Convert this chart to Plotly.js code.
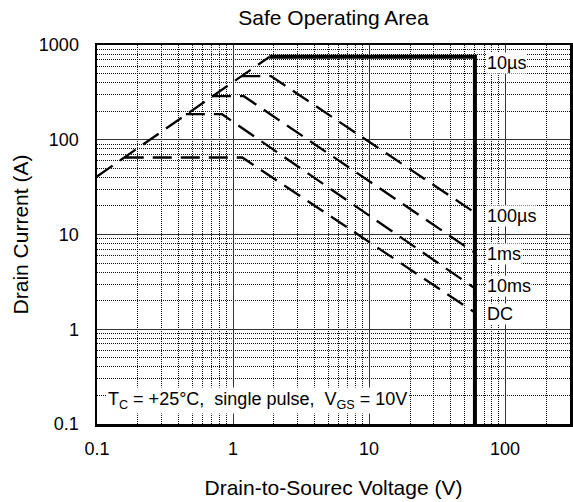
<!DOCTYPE html>
<html><head><meta charset="utf-8">
<script src="https://cdn.plot.ly/plotly-3.0.1.min.js"></script>
<style>body{margin:0;background:#fff}#c{width:573px;height:502px}</style>
</head><body><div id="c"></div>
<script>
// R_DS(on) limit ramp
const rampV = [0.1, 1.85];
const rampI = [41, 750];
// 10 µs / package limit (solid)
const limitV = [1.85, 60, 60];
const limitI = [750, 750, 0.1];
const us100V = [1.15, 1.9, 60];
const us100I = [470, 470, 17];
const ms1V = [0.7, 1.2, 60];
const ms1I = [288, 288, 6.4];
const ms10V = [0.45, 0.83, 60];
const ms10I = [186, 186, 2.7];
const dcV = [0.16, 1.17, 60];
const dcI = [65, 65, 1.5];
const labels = ['10µs', '100µs', '1ms', '10ms', 'DC'];
const labelY = [750, 17, 6.4, 2.7, 1.5];
const xTicks = [0.1, 1, 10, 100];
const yTicks = [0.1, 1, 10, 100, 1000];

const F = 'Arial, "Liberation Sans", sans-serif';
const dash = {color: '#000', width: 2.3, dash: '19px,9px'};
const mk = (x, y, line) => ({x, y, type: 'scatter', mode: 'lines', line, hoverinfo: 'skip', showlegend: false});
const data = [
  mk(rampV, rampI, dash),
  mk(us100V, us100I, dash),
  mk(ms1V, ms1I, dash),
  mk(ms10V, ms10I, dash),
  mk(dcV, dcI, dash),
  mk(limitV, limitI, {color: '#000', width: 4})
];
const lblShift = [-6, -3, -1, 2, -1];
const ann = labels.map((t, i) => ({
  x: Math.log10(60), y: Math.log10(labelY[i]), xref: 'x', yref: 'y', text: t,
  showarrow: false, xanchor: 'left', yanchor: 'middle', xshift: 11, yshift: lblShift[i],
  bgcolor: '#fff', font: {family: F, size: 18, color: '#000'}, borderpad: 0
}));
ann.push({
  xref: 'paper', yref: 'paper', x: 0.02, y: 0.063, xanchor: 'left', yanchor: 'middle',
  text: 'T<sub>C</sub> = +25°C,  single pulse,  V<sub>GS</sub> = 10V', showarrow: false,
  bgcolor: '#fff', font: {family: F, size: 18, color: '#000'}, borderpad: 1
});
const axBase = {
  type: 'log', showline: true, linecolor: '#000', linewidth: 2.5, mirror: true,
  ticks: '', showgrid: true, gridcolor: '#333', gridwidth: 1, zeroline: false,
  tickfont: {family: F, size: 18, color: '#000'},
  minor: {dtick: 'D1', showgrid: true, gridcolor: '#111', griddash: '1px,1px', gridwidth: 1, ticks: ''}
};
const layout = {
  width: 573, height: 502,
  margin: {l: 97, r: 3, t: 45, b: 78},
  paper_bgcolor: '#fff', plot_bgcolor: '#fff',
  title: {text: 'Safe Operating Area', font: {family: F, size: 21, color: '#000'}, x: 0.582, xanchor: 'center', y: 0.964, yanchor: 'middle'},
  xaxis: Object.assign({}, axBase, {range: [-1, Math.log10(300)], tickvals: xTicks, ticktext: xTicks.map(String),
    ticklabelstandoff: 7,
    title: {text: 'Drain-to-Sourec Voltage (V)', font: {family: F, size: 21, color: '#000'}, standoff: 22}}),
  yaxis: Object.assign({}, axBase, {range: [-1, 3], tickvals: yTicks, ticktext: yTicks.map(String),
    ticklabelstandoff: 12,
    title: {text: 'Drain Current (A)', font: {family: F, size: 21, color: '#000'}, standoff: 5}}),
  annotations: ann
};
Plotly.newPlot('c', data, layout, {staticPlot: true, displayModeBar: false});
</script></body></html>
